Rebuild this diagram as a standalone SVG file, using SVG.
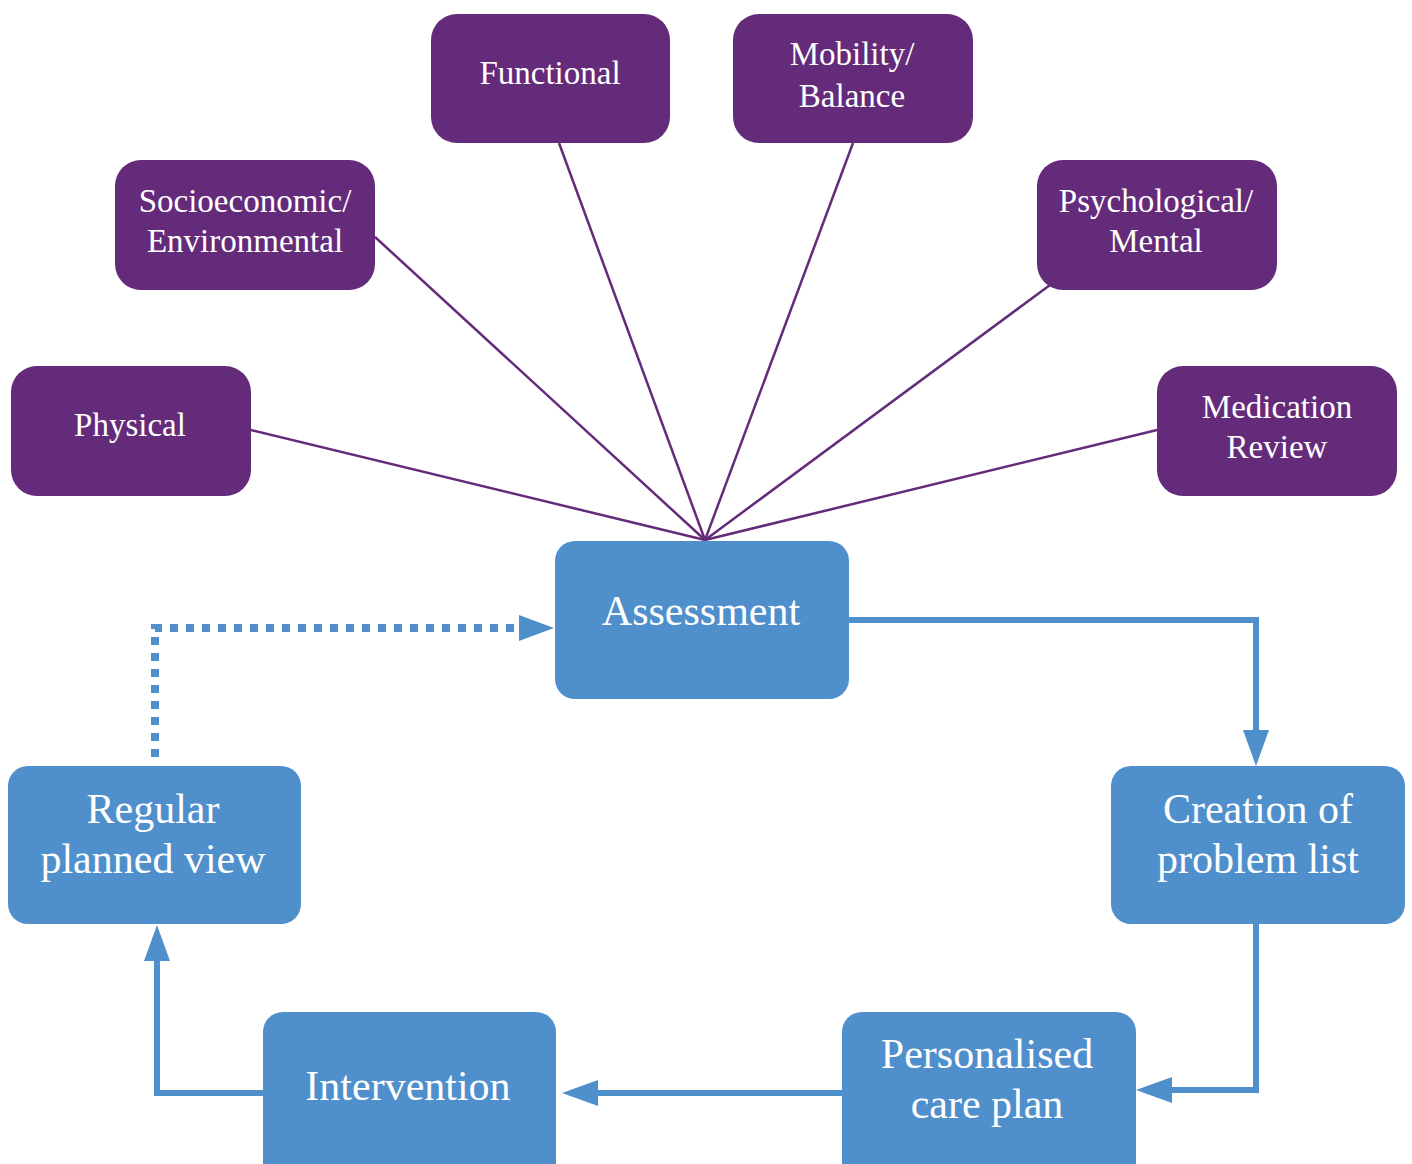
<svg xmlns="http://www.w3.org/2000/svg" width="1412" height="1164" viewBox="0 0 1412 1164">
<defs>
<style>
.p{fill:#652b7b}
.b{fill:#4f8fcc}
.t{fill:#fff;font-family:"Liberation Serif","DejaVu Serif",serif;text-anchor:middle}
.ts{font-size:33px}
.tb{font-size:42px}
.pl{stroke:#652b7b;stroke-width:2.5;fill:none}
.bl{stroke:#4f8fcc;stroke-width:6;fill:none}
.dl{stroke:#4f8fcc;stroke-width:8;fill:none;stroke-dasharray:8 8}
</style>
<marker id="ah" viewBox="0 0 36 26" refX="16" refY="13" markerWidth="36" markerHeight="26" markerUnits="userSpaceOnUse" orient="auto">
<path d="M0 0L36 13L0 26Z" fill="#4f8fcc"/>
</marker>
</defs>
<rect width="1412" height="1164" fill="#fff"/>
<g id="connectors">
<path class="pl" d="M251 430L705 540"/>
<path class="pl" d="M375 237L705 540"/>
<path class="pl" d="M559 143L705 540"/>
<path class="pl" d="M853 143L705 540"/>
<path class="pl" d="M1050 285L705 540"/>
<path class="pl" d="M1157 430L705 540"/>
<path class="bl" d="M849 620H1256V746" marker-end="url(#ah)"/>
<path class="bl" d="M1256 924V1090H1156" marker-end="url(#ah)"/>
<path class="bl" d="M842 1093H582" marker-end="url(#ah)"/>
<path class="bl" d="M263 1093H157V945" marker-end="url(#ah)"/>
<path class="dl" d="M155 757V628H520"/>
<path d="M519 615L554 628L519 641Z" fill="#4f8fcc"/>
</g>
<g id="functional"><rect class="p" x="431" y="14" width="239" height="129" rx="26"/><text class="t ts" x="550" y="84">Functional</text></g>
<g id="mobility"><rect class="p" x="733" y="14" width="240" height="129" rx="26"/><text class="t ts" x="852" y="65">Mobility/</text><text class="t ts" x="852" y="107">Balance</text></g>
<g id="socioeconomic"><rect class="p" x="115" y="160" width="260" height="130" rx="26"/><text class="t ts" x="245" y="212">Socioeconomic/</text><text class="t ts" x="245" y="252">Environmental</text></g>
<g id="psychological"><rect class="p" x="1037" y="160" width="240" height="130" rx="26"/><text class="t ts" x="1156" y="212">Psychological/</text><text class="t ts" x="1156" y="252">Mental</text></g>
<g id="physical"><rect class="p" x="11" y="366" width="240" height="130" rx="26"/><text class="t ts" x="130" y="436">Physical</text></g>
<g id="medication"><rect class="p" x="1157" y="366" width="240" height="130" rx="26"/><text class="t ts" x="1277" y="418">Medication</text><text class="t ts" x="1277" y="458">Review</text></g>
<g id="assessment"><rect class="b" x="555" y="541" width="294" height="158" rx="20"/><text class="t tb" x="701" y="625">Assessment</text></g>
<g id="creation"><rect class="b" x="1111" y="766" width="294" height="158" rx="20"/><text class="t tb" x="1258" y="823">Creation of</text><text class="t tb" x="1258" y="873">problem list</text></g>
<g id="personalised"><rect class="b" x="842" y="1012" width="294" height="170" rx="20"/><text class="t tb" x="987" y="1068">Personalised</text><text class="t tb" x="987" y="1118">care plan</text></g>
<g id="intervention"><rect class="b" x="263" y="1012" width="293" height="170" rx="20"/><text class="t tb" x="408" y="1100">Intervention</text></g>
<g id="regular"><rect class="b" x="8" y="766" width="293" height="158" rx="20"/><text class="t tb" x="153" y="823">Regular</text><text class="t tb" x="153" y="873">planned view</text></g>
</svg>
